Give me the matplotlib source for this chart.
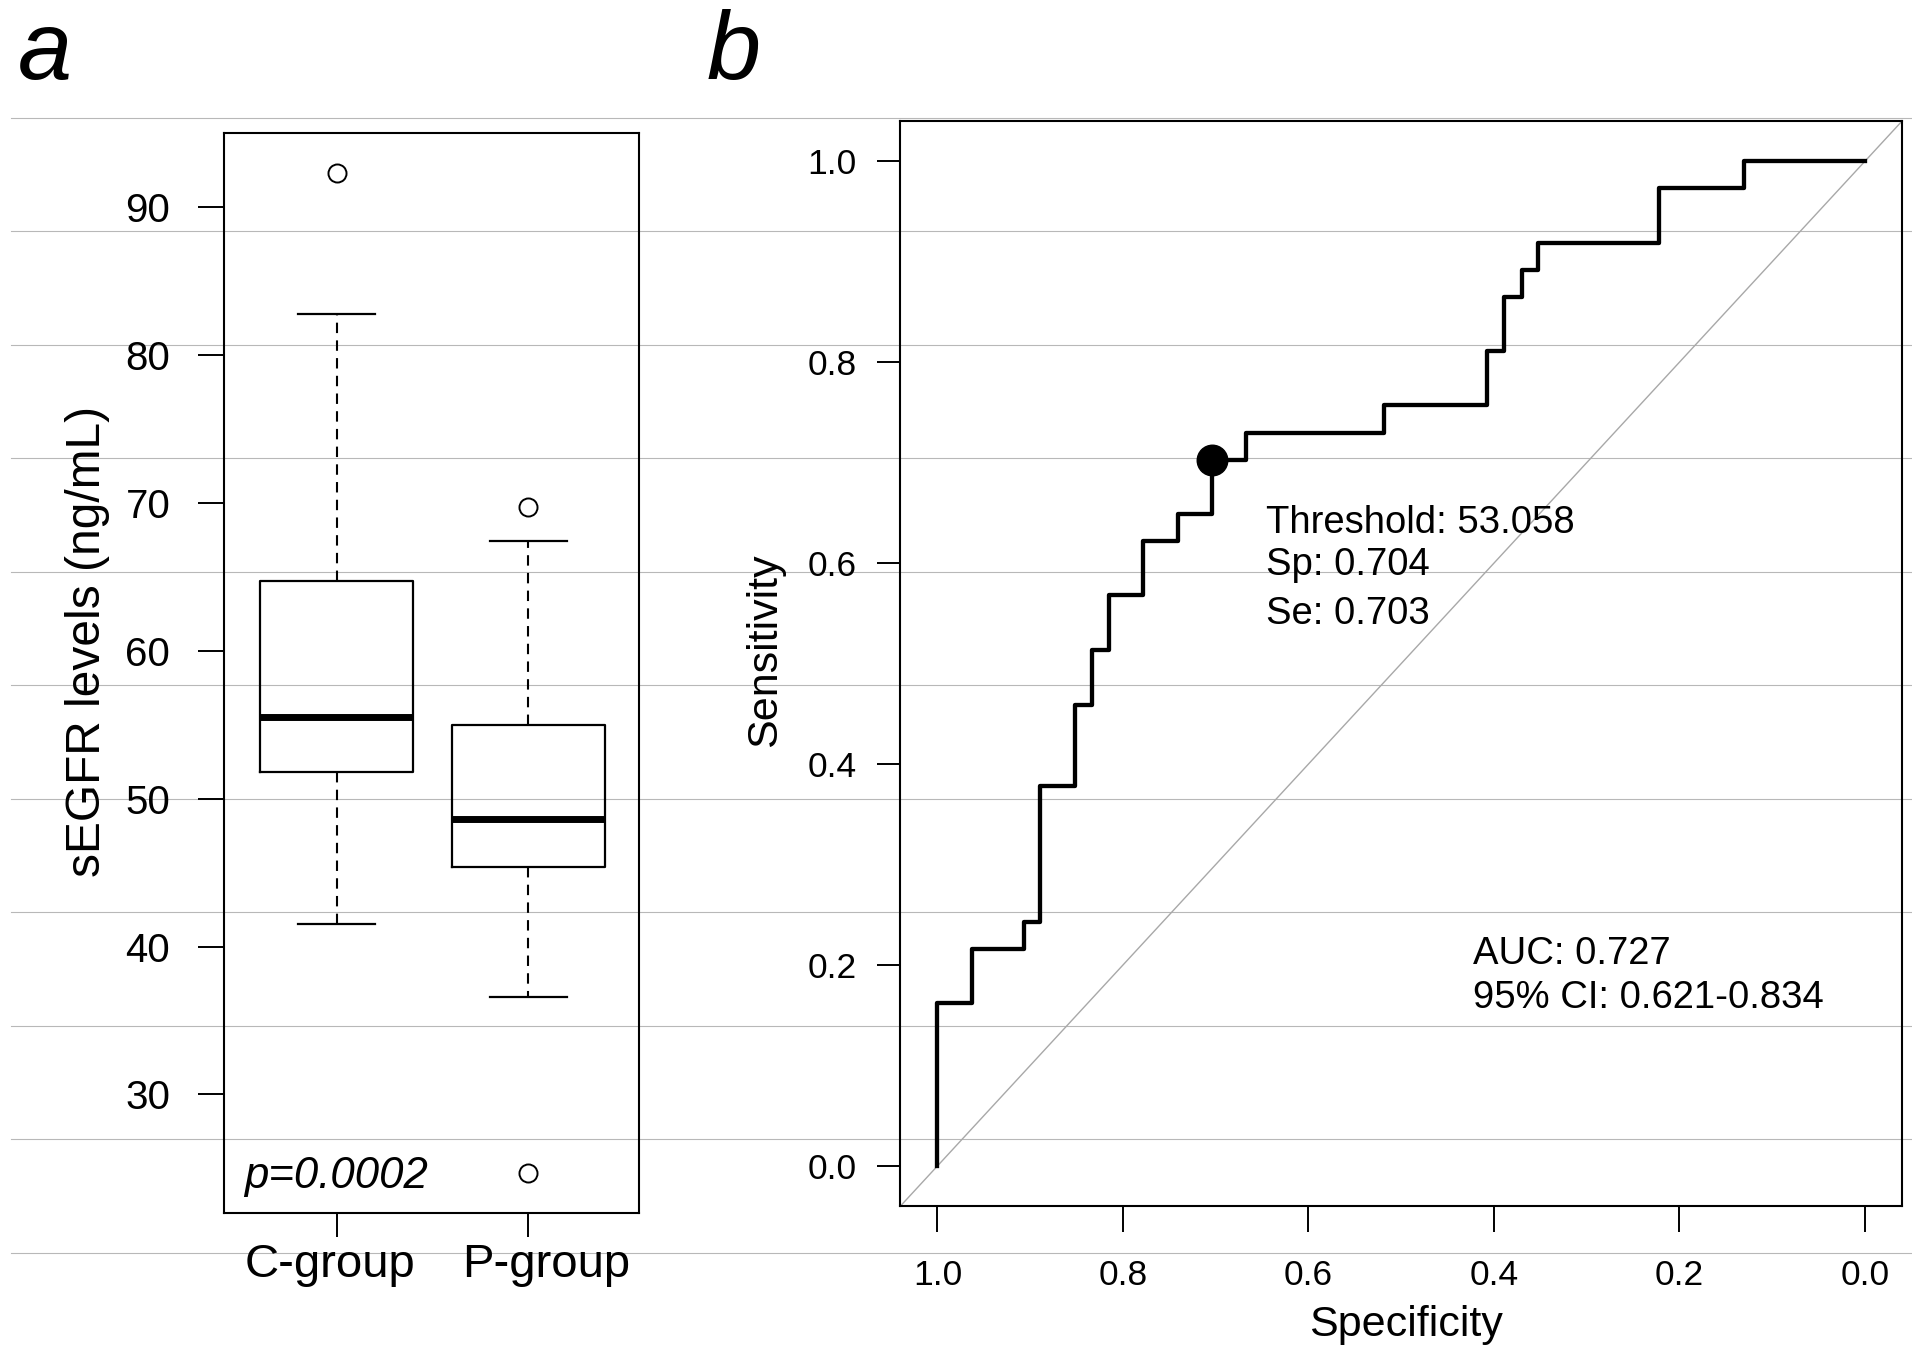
import matplotlib.pyplot as plt
from matplotlib.lines import Line2D
from matplotlib.ticker import FormatStrFormatter
from matplotlib.transforms import ScaledTranslation

plt.rcParams['font.family'] = ['Liberation Sans', 'DejaVu Sans']

# panel a: sEGFR box plot summary (ng/mL)
groups = ["C-group", "P-group"]
whisker_low = [41.5, 36.6]
q1 = [51.8, 45.4]
median = [55.5, 48.6]
q3 = [64.7, 55.0]
whisker_high = [82.8, 67.4]
outliers = [[92.3], [69.7, 24.7]]
p_text = "p=0.0002"

# panel b: ROC curve corners (specificity, sensitivity)
roc_spec = [1.0, 1.0, 0.963, 0.907, 0.889, 0.852, 0.833, 0.815, 0.778, 0.741,
            0.704, 0.667, 0.519, 0.407, 0.389, 0.370, 0.352, 0.222, 0.130, 0.0]
roc_sens = [0.0, 0.162, 0.216, 0.243, 0.378, 0.459, 0.514, 0.568, 0.622, 0.649,
            0.703, 0.730, 0.757, 0.811, 0.865, 0.892, 0.919, 0.973, 1.0, 1.0]
best_spec = 0.704
best_sens = 0.703
threshold = 53.058
auc = 0.727
ci = (0.621, 0.834)

W, H = 1912, 1366
fig = plt.figure(figsize=(W / 100, H / 100), dpi=100)
fig.patch.set_facecolor("white")

# faint horizontal scan lines running across the whole figure
for k in range(11):
    y = 1 - (117.5 + k * 113.5) / H
    fig.add_artist(Line2D([11 / W, 1], [y, y], color="#b8b8b8", lw=0.8, zorder=0))

# ---------- panel a ----------
ax1 = fig.add_axes([224 / W, 1 - 1213.4 / H, 415 / W, 1080.7 / H])
ax1.set_facecolor("none")
stats = []
for i, g in enumerate(groups):
    stats.append(dict(label=g, med=median[i], q1=q1[i], q3=q3[i],
                      whislo=whisker_low[i], whishi=whisker_high[i],
                      fliers=outliers[i]))
ax1.bxp(stats, positions=[1, 2], widths=0.8, capwidths=0.4,
        boxprops=dict(color="black", lw=1.6),
        medianprops=dict(color="black", lw=5, solid_capstyle="butt"),
        whiskerprops=dict(color="black", lw=1.5, linestyle=(0, (5, 3.5))),
        capprops=dict(color="black", lw=1.6),
        flierprops=dict(marker="o", markerfacecolor="none", markeredgecolor="black",
                        markersize=13, markeredgewidth=1.4))
ax1.set_xlim(0.413, 2.576)
ax1.set_ylim(21.95, 95.05)
ax1.set_yticks([30, 40, 50, 60, 70, 80, 90])
ax1.set_xticks([1, 2])
ax1.set_xticklabels(groups)
ax1.tick_params(axis="y", labelsize=29, length=18.7, width=1.4, pad=20)
ax1.tick_params(axis="x", labelsize=34, length=17, width=1.4, pad=4)
# the group names sit slightly off their ticks in the original
for lab, dx in zip(ax1.get_xticklabels(), [-6.6, 18.2]):
    lab.set_transform(lab.get_transform() + ScaledTranslation(dx / 100, 0, fig.dpi_scale_trans))
for s in ax1.spines.values():
    s.set_linewidth(1.5)
ax1.set_ylabel("sEGFR levels (ng/mL)", fontsize=34.5)
ax1.yaxis.set_label_coords(-0.275, 0.529)
ax1.text(0.516, 23.65, p_text, fontsize=31.5, style="italic", ha="left", va="baseline")

# ---------- panel b ----------
ax2 = fig.add_axes([900.3 / W, 1 - 1206.2 / H, 1001.7 / W, 1085.1 / H])
ax2.set_facecolor("none")
ax2.axline((1, 0), slope=-1, color="#a8a8a8", lw=1.0)
ax2.plot(roc_spec, roc_sens, drawstyle="steps-post", color="black", lw=3.1)
ax2.plot(best_spec, best_sens, "o", color="black", markersize=22)
ax2.text(0.646, 0.630, f"Threshold: {threshold:.3f}", fontsize=27.5, va="baseline")
ax2.text(0.646, 0.588, f"Sp: {best_spec:.3f}", fontsize=27.5, va="baseline")
ax2.text(0.646, 0.539, f"Se: {best_sens:.3f}", fontsize=27.5, va="baseline")
ax2.text(0.422, 0.2007, f"AUC: {auc:.3f}", fontsize=27.5, va="baseline")
ax2.text(0.422, 0.1576, f"95% CI: {ci[0]:.3f}-{ci[1]:.3f}", fontsize=27.5, va="baseline")
ax2.set_xlim(1.04, -0.04)
ax2.set_ylim(-0.04, 1.04)
ticks = [0.0, 0.2, 0.4, 0.6, 0.8, 1.0]
ax2.set_xticks(ticks)
ax2.set_yticks(ticks)
ax2.xaxis.set_major_formatter(FormatStrFormatter("%.1f"))
ax2.yaxis.set_major_formatter(FormatStrFormatter("%.1f"))
ax2.tick_params(axis="y", labelsize=25.5, length=16.5, width=1.4, pad=14.8)
ax2.tick_params(axis="x", labelsize=25.5, length=18.7, width=1.4, pad=19)
for s in ax2.spines.values():
    s.set_linewidth(1.5)
ax2.set_ylabel("Sensitivity", fontsize=31)
ax2.yaxis.set_label_coords(-0.115, 0.512)
ax2.set_xlabel("Specificity", fontsize=31, va="top")
ax2.xaxis.set_label_coords(0.505, -0.091)

fig.text(18 / W, 1 - 79 / H, "a", fontsize=70, style="italic", va="baseline")
fig.text(707 / W, 1 - 79 / H, "b", fontsize=70, style="italic", va="baseline")

fig.savefig("out.png", dpi=100, facecolor="white")
